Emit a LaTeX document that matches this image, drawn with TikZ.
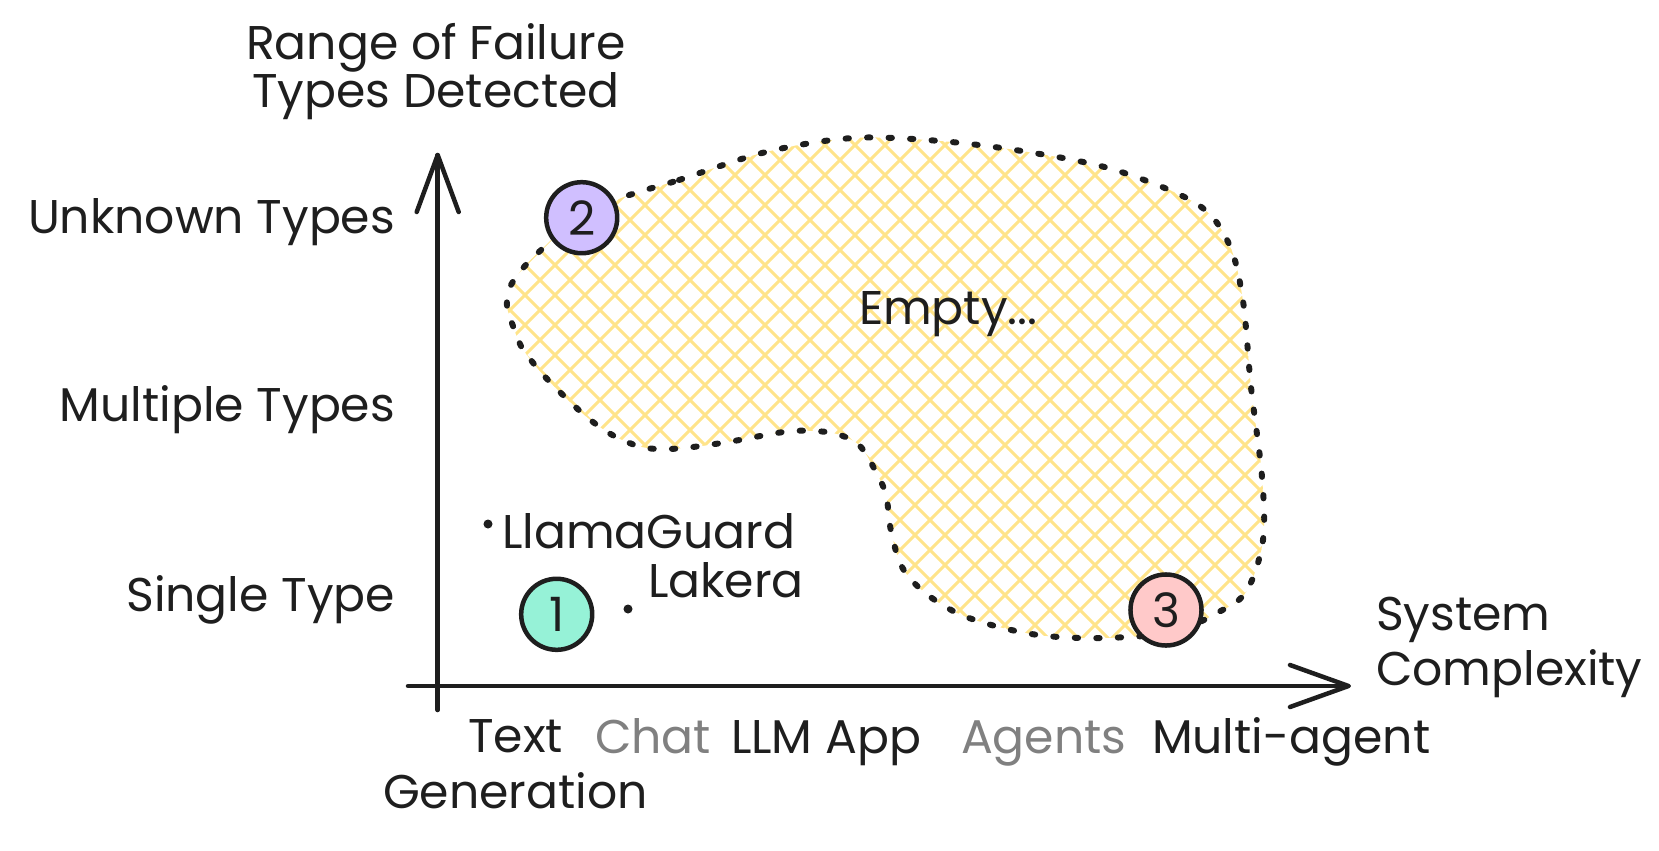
\documentclass[tikz,border=0pt]{standalone}
\usepackage{fontspec}
\setmainfont{Poppins}
\definecolor{ink}{HTML}{1E1E1E}
\definecolor{greytxt}{HTML}{808080}
\definecolor{hatch}{HTML}{FFE48A}
\definecolor{mint}{HTML}{96F2D7}
\definecolor{violet}{HTML}{D0BFFF}
\definecolor{rose}{HTML}{FFC9C9}
\newcommand{\lblfont}{\fontsize{13.45pt}{15pt}\selectfont}
\tikzset{
  lbl/.style={inner sep=0pt, outer sep=0pt, text=ink, font=\lblfont},
  grey/.style={text=greytxt},
  axisline/.style={draw=ink, line width=1.28pt, line cap=round, line join=round},
  circ/.style={circle, draw=ink, line width=1.28pt, minimum size=0.71cm, inner sep=0pt, text=ink, font=\lblfont},
  blobline/.style={draw=ink, line width=1.7pt, line cap=round, dash pattern=on 0.95pt off 5.17pt},
  hatchline/.style={draw=hatch, line width=0.9pt},
  pt/.style={circle, fill=ink, inner sep=0pt, minimum size=0.09cm},
}
\begin{document}
\begin{tikzpicture}[x=0.01cm, y=-0.01cm]
\useasboundingbox (0,0) rectangle (1659,851);
\def\blob{plot[smooth cycle, tension=0.55] coordinates {
 (619,199) (679,180) (766,152) (853,138) (940,141) (1028,152) (1115,170)
 (1197,204) (1229,244) (1243,301) (1251,387) (1262,477) (1263,540) (1246,592)
 (1215,614) (1175,632) (1128,637) (1082,638) (1038,635) (995,626) (957,613)
 (924,592) (902,567) (891,531) (886,495) (875,470) (859,445) (837,434)
 (815,431) (793,431) (771,434) (728,442) (684,448) (657,449) (638,446)
 (616,437) (597,425) (581,412) (564,396) (548,380) (534,364) (521,346)
 (513,326) (507,306) (510,287) (524,267) (540,251) (566,228)}}
% hatch fill
\begin{scope}
  \clip \blob;
  \foreach \i in {0,...,56} {
    \draw[hatchline] (-300+\i*30,100) -- (300+\i*30,700);
    \draw[hatchline] (600+\i*30,100) -- (0+\i*30,700);
  }
\end{scope}
\draw[blobline] \blob;

% axes
\coordinate (yb) at (437.7,710);
\coordinate (yt) at (437.7,155);
\coordinate (ya1) at (416.7,212);
\coordinate (ya2) at (458.7,212);
\coordinate (xb) at (408,686);
\coordinate (xt) at (1348.5,686);
\coordinate (xa1) at (1290,665);
\coordinate (xa2) at (1290,707);
\draw[axisline] (yb) -- (yt);
\draw[axisline] (ya1) -- (yt) -- (ya2);
\draw[axisline] (xb) -- (xt);
\draw[axisline] (xa1) -- (xt) -- (xa2);

% circles
\node[circ, fill=mint] (n1) at (556.7,614.3) {1};
\node[circ, fill=violet] (n2) at (581.7,217.7) {2};
\node[circ, fill=rose] (n3) at (1166,610) {3};

% points
\node[pt] (p1) at (488,524) {};
\node[pt] (p2) at (628,609) {};

% labels
\node[lbl, anchor=base] (t1) at (436,59.3) {Range of Failure};
\node[lbl, anchor=base] (t2) at (436,107.3) {Types Detected};
\node[lbl, anchor=base east] (u) at (395,233) {Unknown Types};
\node[lbl, anchor=base east] (m) at (395,421) {Multiple Types};
\node[lbl, anchor=base east] (s) at (395,611) {Single Type};
\node[lbl, anchor=base west] (lg) at (502,548) {LlamaGuard};
\node[lbl, anchor=base west] (lk) at (648,597) {Lakera};
\node[lbl, anchor=base west] (em) at (859,324) {Empty...};
\node[lbl, anchor=base] (tx) at (515.5,752.7) {Text};
\node[lbl, anchor=base] (gen) at (515.5,808) {Generation};
\node[lbl, grey, anchor=base west] (ch) at (595,753) {Chat};
\node[lbl, anchor=base west] (llm) at (731,753) {LLM App};
\node[lbl, grey, anchor=base west] (ag) at (961,753) {Agents};
\node[lbl, anchor=base west] (ma) at (1152,753) {Multi-agent};
\node[lbl, anchor=base west] (sy) at (1376,630) {System};
\node[lbl, anchor=base west] (cx) at (1376,685) {Complexity};
\end{tikzpicture}
\end{document}
